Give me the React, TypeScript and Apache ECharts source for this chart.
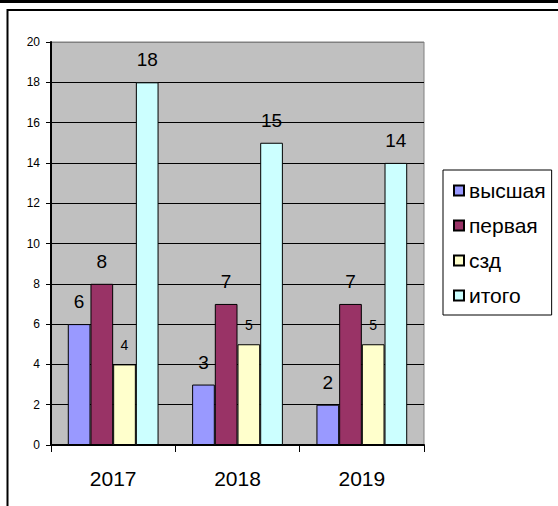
import React, { useEffect, useRef } from "react";
import * as echarts from "echarts";

const years = ["2017", "2018", "2019"];
const vysshaya = [6, 3, 2];
const pervaya = [8, 7, 7];
const szd = [4, 5, 5];
const itogo = [18, 15, 14];
const seriesNames = ["высшая", "первая", "сзд", "итого"];
const seriesColors = ["#9999ff", "#993366", "#ffffcc", "#ccffff"];

const FONT = "'Liberation Sans', Arial, sans-serif";

export default function App() {
  const ref = useRef<HTMLDivElement>(null);
  useEffect(() => {
    document.body.style.margin = "0";
    const chart = echarts.init(ref.current!, null, { renderer: "svg" });
    const values = [vysshaya, pervaya, szd, itogo];
    const splitColors = Array.from({ length: 11 }, (_, i) => (i === 10 ? "#808080" : "#000000"));
    chart.setOption({
      animation: false,
      backgroundColor: "#ffffff",
      textStyle: { fontFamily: FONT, color: "#000" },
      graphic: [
        { type: "rect", shape: { x: 0, y: 0, width: 558, height: 3 }, style: { fill: "#000" }, silent: true },
        {
          type: "rect",
          shape: { x: 7.5, y: 10, width: 700, height: 700 },
          style: { fill: "none", stroke: "#000", lineWidth: 2 },
          silent: true,
        },
      ],
      grid: {
        left: 51,
        top: 42,
        right: 134,
        bottom: 61,
        show: true,
        backgroundColor: "#c0c0c0",
        borderColor: "#808080",
        borderWidth: 1,
        containLabel: false,
      },
      legend: {
        orient: "vertical",
        left: 443,
        top: 170,
        width: 114,
        borderColor: "#000",
        borderWidth: 1,
        padding: [10, 6, 9, 10],
        itemWidth: 10,
        itemHeight: 10,
        itemGap: 14,
        icon: "rect",
        textStyle: { fontSize: 21, fontFamily: FONT, color: "#000" },
        data: seriesNames,
      },
      xAxis: {
        type: "category",
        data: years,
        axisLine: { lineStyle: { color: "#000", width: 2 } },
        axisTick: { show: true, length: 7, lineStyle: { color: "#000" } },
        axisLabel: { fontSize: 21, color: "#000", fontFamily: FONT, margin: 23 },
        splitLine: { show: false },
      },
      yAxis: {
        type: "value",
        min: 0,
        max: 20,
        interval: 2,
        axisLine: { show: true, lineStyle: { color: "#000", width: 2 } },
        axisTick: { show: true, length: 5, lineStyle: { color: "#000" } },
        axisLabel: { fontSize: 12, color: "#000", fontFamily: FONT, margin: 11 },
        splitLine: { show: true, lineStyle: { color: splitColors, width: 1 } },
      },
      series: values.map((v, i) => ({
        type: "bar",
        name: seriesNames[i],
        data: v,
        barGap: "0%",
        barCategoryGap: "27%",
        itemStyle: { color: seriesColors[i], borderColor: "#000", borderWidth: 1 },
        label: {
          show: true,
          position: "top",
          distance: i === 2 ? 12 : 13,
          fontSize: i === 2 ? 14 : 19,
          color: "#000",
          fontFamily: FONT,
        },
      })),
    });
    return () => chart.dispose();
  }, []);
  return <div ref={ref} style={{ position: "fixed", left: 0, top: 0, width: 558, height: 506 }} />;
}
